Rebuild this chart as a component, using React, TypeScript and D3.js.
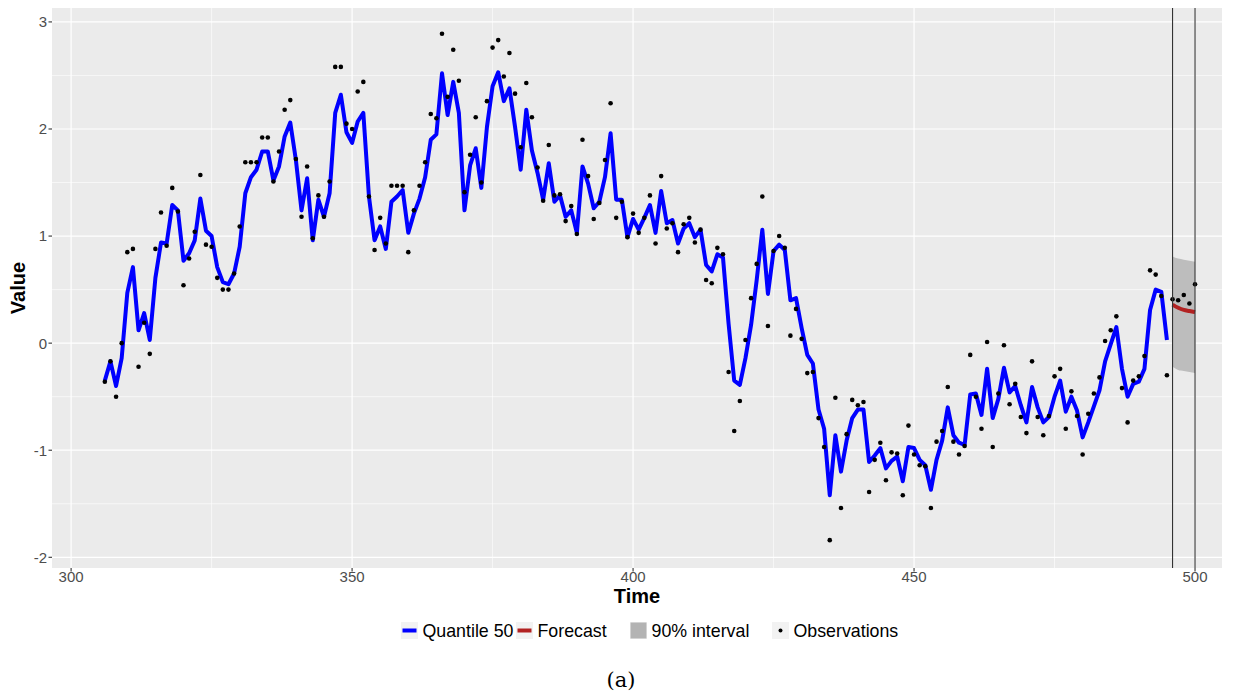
import React from 'react'
import * as d3 from 'd3'

// time index of the first quantile / observation value
const lineStart = 306
const obsStart = 306

const quantile50 = [
  -0.35, -0.17, -0.4, -0.14, 0.47, 0.71, 0.12, 0.28, 0.03, 0.61,
  0.94, 0.93, 1.29, 1.24, 0.77, 0.84, 0.96, 1.35, 1.05, 1.0,
  0.71, 0.57, 0.55, 0.65, 0.9, 1.4, 1.55, 1.62, 1.79, 1.79,
  1.52, 1.65, 1.93, 2.06, 1.71, 1.24, 1.54, 0.96, 1.34, 1.18,
  1.4, 2.15, 2.32, 1.97, 1.87, 2.07, 2.15, 1.37, 0.96, 1.09,
  0.88, 1.32, 1.37, 1.43, 1.03, 1.21, 1.35, 1.55, 1.9, 1.95,
  2.52, 2.13, 2.44, 2.15, 1.24, 1.66, 1.82, 1.45, 2.02, 2.4,
  2.53, 2.26, 2.38, 2.02, 1.62, 2.18, 1.8, 1.59, 1.34, 1.68,
  1.32, 1.38, 1.18, 1.24, 1.03, 1.65, 1.49, 1.26, 1.32, 1.55,
  1.96, 1.34, 1.34, 0.99, 1.16, 1.06, 1.17, 1.29, 1.03, 1.42,
  1.12, 1.15, 0.93, 1.07, 1.12, 0.99, 1.06, 0.73, 0.67, 0.83,
  0.8, 0.18, -0.35, -0.39, -0.14, 0.17, 0.59, 1.06, 0.46, 0.86,
  0.92, 0.87, 0.4, 0.42, 0.14, -0.11, -0.19, -0.62, -0.8, -1.42,
  -0.86, -1.2, -0.91, -0.7, -0.62, -0.62, -1.11, -1.05, -0.98, -1.17,
  -1.1, -1.06, -1.29, -0.97, -0.98, -1.09, -1.14, -1.37, -1.09, -0.91,
  -0.6, -0.86, -0.93, -0.95, -0.48, -0.47, -0.67, -0.24, -0.7, -0.52,
  -0.23, -0.46, -0.4, -0.58, -0.74, -0.41, -0.6, -0.74, -0.69, -0.5,
  -0.35, -0.64, -0.5, -0.63, -0.88, -0.74, -0.59, -0.44, -0.17, -0.01,
  0.15, -0.24, -0.5, -0.38, -0.36, -0.24, 0.31, 0.5, 0.48, 0.03
]

const observations = [
  -0.36, -0.17, -0.5, 0.0, 0.85, 0.88, -0.22, 0.19, -0.1, 0.88,
  1.22, 0.91, 1.45, 1.23, 0.54, 0.79, 1.04, 1.57, 0.92, 0.9,
  0.61, 0.5, 0.5, 0.65, 1.09, 1.69, 1.69, 1.69, 1.92, 1.92,
  1.51, 1.79, 2.18, 2.27, 1.72, 1.18, 1.65, 0.98, 1.38, 1.18,
  1.51, 2.58, 2.58, 2.05, 2.0, 2.35, 2.44, 1.37, 0.87, 1.17,
  0.93, 1.47, 1.47, 1.47, 0.85, 1.24, 1.47, 1.69, 2.14, 2.1,
  2.89, 2.3, 2.74, 2.45, 1.41, 1.76, 2.11, 1.5, 2.26, 2.76,
  2.83, 2.49, 2.71, 2.33, 1.83, 2.43, 2.11, 1.64, 1.33, 1.85,
  1.38, 1.39, 1.14, 1.28, 1.02, 1.9, 1.56, 1.16, 1.31, 1.71,
  2.24, 1.17, 1.32, 0.99, 1.21, 1.03, 1.17, 1.38, 0.93, 1.56,
  1.07, 1.12, 0.85, 1.11, 1.17, 0.94, 1.06, 0.59, 0.56, 0.89,
  0.83, -0.27, -0.82, -0.54, 0.03, 0.42, 0.74, 1.37, 0.16, 0.86,
  1.0, 0.89, 0.07, 0.32, 0.04, -0.28, -0.27, -0.7, -0.97, -1.84,
  -0.51, -1.54, -0.85, -0.53, -0.58, -0.55, -1.39, -1.09, -0.93, -1.28,
  -1.02, -1.03, -1.42, -0.77, -1.04, -1.14, -1.15, -1.54, -0.92, -0.82,
  -0.41, -0.92, -1.04, -0.96, -0.11, -0.5, -0.8, 0.01, -0.97, -0.47,
  -0.02, -0.57, -0.38, -0.69, -0.84, -0.17, -0.69, -0.86, -0.68, -0.31,
  -0.24, -0.8, -0.45, -0.68, -1.04, -0.66, -0.47, -0.32, 0.02, 0.12,
  0.25, -0.42, -0.74, -0.35, -0.31, -0.12, 0.68, 0.64, 0.44, -0.3,
  0.41, 0.4, 0.45, 0.37, 0.55
]

const forecastTime = [496, 497, 498, 499, 500]
const forecast = [0.36, 0.33, 0.31, 0.3, 0.29]
const upper90 = [0.81, 0.79, 0.78, 0.77, 0.76]
const lower90 = [-0.22, -0.25, -0.26, -0.27, -0.28]
const forecastBounds = [496, 500]

const xTicks = [300, 350, 400, 450, 500]
const xMinor = [325, 375, 425, 475]
const yTicks = [-2, -1, 0, 1, 2, 3]
const yMinor = [-1.5, -0.5, 0.5, 1.5, 2.5]
const legendLabels = ['Quantile 50', 'Forecast', '90% interval', 'Observations']

const W = 1249
const H = 696
const panel = { left: 52, right: 1222, top: 8, bottom: 568 }
const font = '"Liberation Sans", Arial, Helvetica, sans-serif'

export default function App() {
  const x = d3.scaleLinear().domain([296.6, 504.8]).range([panel.left, panel.right])
  const y = d3.scaleLinear().domain([-2.1, 3.13]).range([panel.bottom, panel.top])

  const qLine = d3
    .line<number>()
    .x((d, i) => x(lineStart + i))
    .y(d => y(d))

  const fLine = d3
    .line<number>()
    .x((d, i) => x(forecastTime[i]))
    .y(d => y(d))
    .curve(d3.curveMonotoneX)

  const band = d3
    .area<number>()
    .x((d, i) => x(forecastTime[i]))
    .y0((d, i) => y(lower90[i]))
    .y1(d => y(d))
    .curve(d3.curveMonotoneX)

  // legend key positions
  const keyX = [401, 516, 630, 772]
  const keyY = 622
  const keySize = 17

  return (
    <div style={{ position: 'absolute', left: 0, top: 0 }}>
      <svg width={W} height={H} style={{ display: 'block', background: '#fff' }}>
        <rect
          x={panel.left}
          y={panel.top}
          width={panel.right - panel.left}
          height={panel.bottom - panel.top}
          fill="#EBEBEB"
        />
        {/* grid */}
        {yMinor.map(v => (
          <line key={'ym' + v} x1={panel.left} x2={panel.right} y1={y(v)} y2={y(v)} stroke="#fff" strokeWidth={0.6} />
        ))}
        {xMinor.map(v => (
          <line key={'xm' + v} x1={x(v)} x2={x(v)} y1={panel.top} y2={panel.bottom} stroke="#fff" strokeWidth={0.6} />
        ))}
        {yTicks.map(v => (
          <line key={'y' + v} x1={panel.left} x2={panel.right} y1={y(v)} y2={y(v)} stroke="#fff" strokeWidth={1.2} />
        ))}
        {xTicks.map(v => (
          <line key={'x' + v} x1={x(v)} x2={x(v)} y1={panel.top} y2={panel.bottom} stroke="#fff" strokeWidth={1.2} />
        ))}

        {/* 90% interval */}
        <path d={band(upper90) || ''} fill="#BDBDBD" />

        <path d={qLine(quantile50) || ''} fill="none" stroke="#0000FF" strokeWidth={4} strokeLinejoin="round" />
        <path d={fLine(forecast) || ''} fill="none" stroke="#B22222" strokeWidth={4} />

        {observations.map((v, i) => (
          <circle key={'o' + i} cx={x(obsStart + i)} cy={y(v)} r={2.3} fill="#000" />
        ))}

        {forecastBounds.map(t => (
          <line key={'v' + t} x1={x(t)} x2={x(t)} y1={panel.top} y2={panel.bottom} stroke="#333" strokeWidth={1.1} />
        ))}

        {/* axes */}
        {yTicks.map(v => (
          <g key={'yt' + v}>
            <line x1={panel.left - 3.5} x2={panel.left} y1={y(v)} y2={y(v)} stroke="#333" strokeWidth={1.1} />
            <text
              x={panel.left - 5}
              y={y(v)}
              dy="0.36em"
              textAnchor="end"
              fontFamily={font}
              fontSize={15}
              fill="#4D4D4D"
            >
              {v}
            </text>
          </g>
        ))}
        {xTicks.map(v => (
          <g key={'xt' + v}>
            <line x1={x(v)} x2={x(v)} y1={panel.bottom} y2={panel.bottom + 3.5} stroke="#333" strokeWidth={1.1} />
            <text x={x(v)} y={panel.bottom + 14} textAnchor="middle" fontFamily={font} fontSize={15} fill="#4D4D4D">
              {v}
            </text>
          </g>
        ))}

        <text x={(panel.left + panel.right) / 2} y={603} textAnchor="middle" fontFamily={font} fontSize={20} fontWeight="bold">
          Time
        </text>
        <text
          transform={`translate(25, ${(panel.top + panel.bottom) / 2}) rotate(-90)`}
          textAnchor="middle"
          fontFamily={font}
          fontSize={20}
          fontWeight="bold"
        >
          Value
        </text>

        {/* legend */}
        {legendLabels.map((lab, i) => (
          <g key={'lg' + i}>
            <rect x={keyX[i]} y={keyY} width={keySize} height={keySize} fill="#F2F2F2" />
            {i === 0 && (
              <line x1={keyX[i] + 1.5} x2={keyX[i] + keySize - 1.5} y1={keyY + keySize / 2} y2={keyY + keySize / 2} stroke="#0000FF" strokeWidth={4} />
            )}
            {i === 1 && (
              <line x1={keyX[i] + 1.5} x2={keyX[i] + keySize - 1.5} y1={keyY + keySize / 2} y2={keyY + keySize / 2} stroke="#B22222" strokeWidth={4} />
            )}
            {i === 2 && <rect x={keyX[i] + 0.5} y={keyY + 0.5} width={keySize - 1} height={keySize - 1} fill="#B3B3B3" />}
            {i === 3 && <circle cx={keyX[i] + keySize / 2} cy={keyY + keySize / 2} r={2} fill="#000" />}
            <text x={keyX[i] + keySize + 4.5} y={keyY + keySize / 2} dy="0.36em" fontFamily={font} fontSize={17.8} fill="#000">
              {lab}
            </text>
          </g>
        ))}

        <text x={621} y={687} textAnchor="middle" fontFamily='"DejaVu Serif", "Liberation Serif", serif' fontSize={21}>
          (a)
        </text>
      </svg>
    </div>
  )
}
